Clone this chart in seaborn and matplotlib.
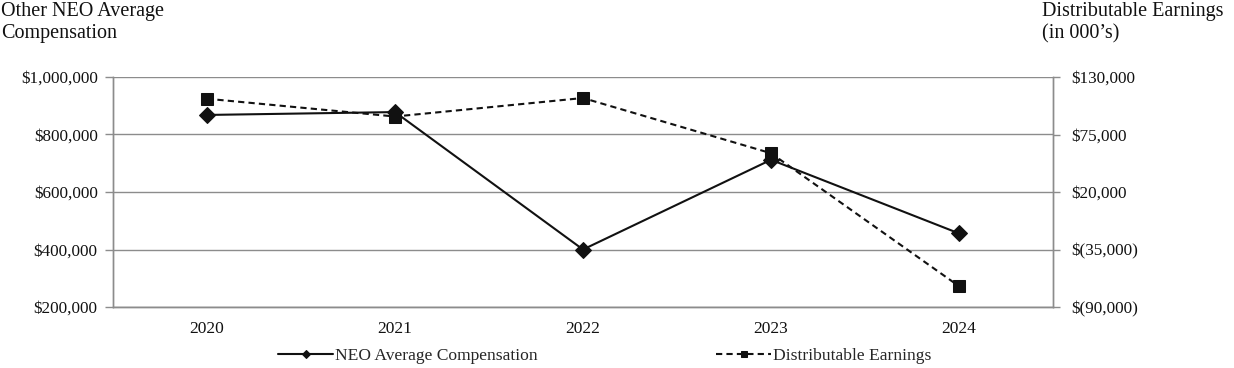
import pandas as pd
import matplotlib
matplotlib.use("Agg")
import matplotlib.pyplot as plt
from matplotlib.ticker import FuncFormatter, FixedLocator
import seaborn as sns

# values
years = ["2020", "2021", "2022", "2023", "2024"]
neo_comp = [868000, 878000, 400000, 712000, 456000]
dist_earn = [109200, 92200, 109900, 57100, -70100]   # in 000's

left_ticks = [200000, 400000, 600000, 800000, 1000000]
right_ticks = [-90000, -35000, 20000, 75000, 130000]

GRAY = "#8c8c8c"
INK = "#111111"

sns.set_theme(style="white")
plt.rcParams["font.family"] = ["Liberation Serif", "DejaVu Serif"]

df = pd.DataFrame({"pos": range(len(years)), "year": years,
                   "neo": neo_comp, "de": dist_earn})


def left_fmt(v, _):
    return f"${v:,.0f}"


def right_fmt(v, _):
    if v < 0:
        return f"$({abs(v):,.0f})"
    return f"${v:,.0f}"


fig, ax = plt.subplots(figsize=(12.34, 3.68), dpi=100)
fig.subplots_adjust(left=113 / 1234, right=1053 / 1234,
                    top=1 - 77 / 368, bottom=1 - 307 / 368)
ax2 = ax.twinx()

sns.lineplot(data=df, x="pos", y="neo", ax=ax, color=INK, linewidth=1.5,
             marker="D", markersize=8, markeredgecolor=INK,
             label="NEO Average Compensation", zorder=3)
sns.lineplot(data=df, x="pos", y="de", ax=ax2, color=INK, linewidth=1.5,
             linestyle=(0, (3, 2)), marker="s", markersize=9,
             markeredgecolor=INK, label="Distributable Earnings", zorder=3)

# left axis
ax.set_ylim(left_ticks[0], left_ticks[-1])
ax.yaxis.set_major_locator(FixedLocator(left_ticks))
ax.yaxis.set_major_formatter(FuncFormatter(left_fmt))
ax.grid(axis="y", color=GRAY, linewidth=1)
ax.set_xlim(-0.5, len(years) - 0.5)
ax.set_xticks(df["pos"])
ax.set_xticklabels(years)
ax.set_xticks([p - 0.5 for p in range(len(years) + 1)], minor=True)
ax.tick_params(axis="x", which="major", length=0, pad=10, labelsize=12.5,
               colors=INK)
ax.tick_params(axis="x", which="minor", length=5, color=GRAY, width=1)
ax.tick_params(axis="y", length=6, color=GRAY, width=1, pad=5,
               labelsize=12.3, labelcolor=INK, left=True)
ax.set_xlabel("")
ax.set_ylabel("")

# right axis
ax2.set_ylim(right_ticks[0], right_ticks[-1])
ax2.yaxis.set_major_locator(FixedLocator(right_ticks))
ax2.yaxis.set_major_formatter(FuncFormatter(right_fmt))
ax2.tick_params(axis="y", length=5, color=GRAY, width=1, pad=8,
                labelsize=12.3, labelcolor=INK, right=True)
ax2.set_ylabel("")
ax2.grid(False)

for a in (ax, ax2):
    for side in ("left", "right", "bottom"):
        a.spines[side].set_color(GRAY)
        a.spines[side].set_linewidth(1)
    a.spines["top"].set_visible(False)

# axis titles
fig.text(1 / 1234, 1 - 2 / 368, "Other NEO Average\nCompensation",
         ha="left", va="top", fontsize=14.5, color=INK, linespacing=1.2)
fig.text(1042 / 1234, 1 - 2 / 368, "Distributable Earnings\n(in 000\u2019s)",
         ha="left", va="top", fontsize=14.5, color=INK, linespacing=1.2)

# legend below
handles, labels = ax.get_legend_handles_labels()
h2, l2 = ax2.get_legend_handles_labels()
ax.get_legend().remove()
ax2.get_legend().remove()
fig.legend(handles + h2, labels + l2, loc="center",
           bbox_to_anchor=(605 / 1234, 1 - 356 / 368), ncol=2,
           frameon=False, fontsize=12.6, handlelength=3.1,
           handletextpad=0.15, columnspacing=10.2, markerscale=0.5)

fig.savefig("out.png", dpi=100)
